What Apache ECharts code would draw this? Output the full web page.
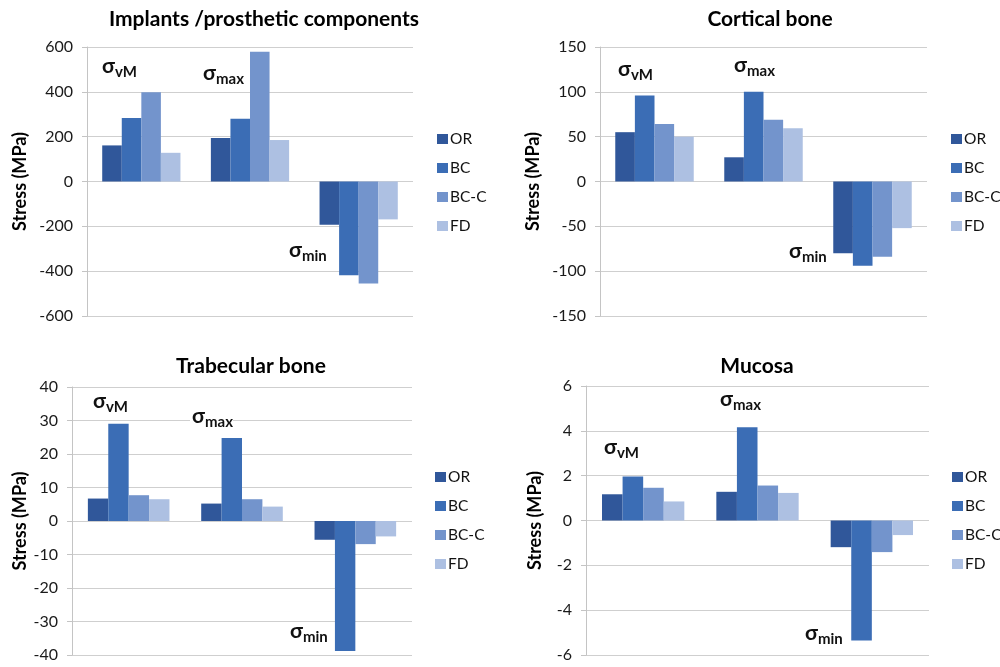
<!DOCTYPE html>
<html>
<head>
<meta charset="utf-8">
<script src="https://cdn.jsdelivr.net/npm/echarts@6/dist/echarts.min.js"></script>
<style>
html,body{margin:0;padding:0;background:#fff;}
#chart{width:1000px;height:667px;}
</style>
</head>
<body>
<div id="chart"></div>
<script>
// ---- data ----
const categories = ['vM', 'max', 'min'];
const seriesNames = ['OR', 'BC', 'BC-C', 'FD'];
const panelTitles = ['Implants /prosthetic components', 'Cortical bone', 'Trabecular bone', 'Mucosa'];

// values per panel, per series: [σvM, σmax, σmin]
const implantsOR  = [161, 194, -193];
const implantsBC  = [283, 280, -418];
const implantsBCC = [398, 579, -455];
const implantsFD  = [128, 185, -169];

const corticalOR  = [55, 27, -80];
const corticalBC  = [96, 100, -94];
const corticalBCC = [64, 69, -84];
const corticalFD  = [50, 59.5, -52];

const trabecularOR  = [6.7, 5.2, -5.6];
const trabecularBC  = [29, 24.8, -38.8];
const trabecularBCC = [7.7, 6.5, -6.9];
const trabecularFD  = [6.5, 4.3, -4.6];

const mucosaOR  = [1.17, 1.28, -1.19];
const mucosaBC  = [1.96, 4.16, -5.35];
const mucosaBCC = [1.46, 1.56, -1.41];
const mucosaFD  = [0.85, 1.23, -0.65];

const panelData = [
  [implantsOR, implantsBC, implantsBCC, implantsFD],
  [corticalOR, corticalBC, corticalBCC, corticalFD],
  [trabecularOR, trabecularBC, trabecularBCC, trabecularFD],
  [mucosaOR, mucosaBC, mucosaBCC, mucosaFD]
];
// y axis ranges: [min, max, interval]
const yRanges = [[-600, 600, 200], [-150, 150, 50], [-40, 40, 10], [-6, 6, 2]];

// ---- layout / style ----
const colors = ['#30579a', '#3b6db5', '#7394cc', '#adc0e2'];
const FONT = 'Lato';
const grids = [
  {left: 87, top: 47, width: 326, height: 269},
  {left: 600, top: 47, width: 327, height: 269},
  {left: 72, top: 387, width: 340, height: 268},
  {left: 586, top: 386, width: 343, height: 269}
];
const titlePos = [[259, 18], [765, 18], [246, 365], [752, 365]];
const legendPos = [[437, 131], [951, 131], [435, 469], [952, 469]];
const nameGaps = [58, 58, 43, 42];
// sigma annotation positions [x of σ left, y centre]
const sigmaPos = [
  [[102, 70], [203, 77], [289, 254]],
  [[618, 73], [734, 69], [789, 255]],
  [[93, 405], [192, 420], [290, 635]],
  [[604, 451], [720, 403], [805, 637]]
];

const chart = echarts.init(document.getElementById('chart'));

const option = {
  backgroundColor: '#fff',
  color: colors,
  animation: false,
  textStyle: {fontFamily: FONT},
  title: panelTitles.map((t, i) => ({
    text: t,
    left: titlePos[i][0],
    top: titlePos[i][1] - 14,
    textAlign: 'center',
    textStyle: {fontFamily: FONT, fontWeight: 'bold', fontSize: 21, color: '#000'}
  })),
  legend: grids.map((g, i) => ({
    data: seriesNames,
    orient: 'vertical',
    left: legendPos[i][0],
    top: legendPos[i][1],
    padding: 0,
    itemWidth: 11,
    itemHeight: 10,
    itemGap: 13,
    icon: 'rect',
    selectedMode: false,
    textStyle: {fontFamily: FONT, fontSize: 15.5, color: '#111', lineHeight: 16, padding: [0, 0, 0, -3]}
  })),
  grid: grids,
  xAxis: grids.map((g, i) => ({
    type: 'category',
    gridIndex: i,
    data: categories,
    axisLine: {show: false},
    axisTick: {show: false},
    axisLabel: {show: false},
    splitLine: {show: false}
  })),
  yAxis: grids.map((g, i) => ({
    type: 'value',
    gridIndex: i,
    min: yRanges[i][0],
    max: yRanges[i][1],
    interval: yRanges[i][2],
    name: 'Stress (MPa)',
    nameLocation: 'middle',
    nameRotate: 90,
    nameGap: nameGaps[i],
    nameTextStyle: {fontFamily: FONT, fontWeight: 'bold', fontSize: 18, color: '#000'},
    axisLine: {show: true, lineStyle: {color: '#c4c4c4', width: 1}},
    axisTick: {show: true, length: 5, lineStyle: {color: '#c4c4c4'}},
    axisLabel: {fontFamily: FONT, fontSize: 16, color: '#1a1a1a', margin: 14},
    splitLine: {show: true, lineStyle: {color: '#cfcfcf', width: 1}}
  })),
  series: [],
  graphic: {elements: []}
};

panelData.forEach((set, p) => {
  set.forEach((vals, s) => {
    option.series.push({
      type: 'bar',
      name: seriesNames[s],
      xAxisIndex: p,
      yAxisIndex: p,
      data: vals,
      barGap: '0%',
      barCategoryGap: '28%',
      itemStyle: {color: colors[s]}
    });
  });
  categories.forEach((c, k) => {
    const [x, y] = sigmaPos[p][k];
    option.graphic.elements.push({
      type: 'rect', z: 50, silent: true,
      shape: {x: x - 2, y: y - 12, width: 16 + c.length * 9, height: 24},
      style: {fill: '#fff'}
    });
    option.graphic.elements.push({
      type: 'text', z: 51, left: x, top: y - 14,
      style: {text: 'σ', font: 'bold 21px ' + FONT, fill: '#111'}
    });
    option.graphic.elements.push({
      type: 'text', z: 51, left: x + 13, top: y - 5,
      style: {text: c, font: 'bold 15px ' + FONT, fill: '#111'}
    });
  });
});

chart.setOption(option);
</script>
</body>
</html>
